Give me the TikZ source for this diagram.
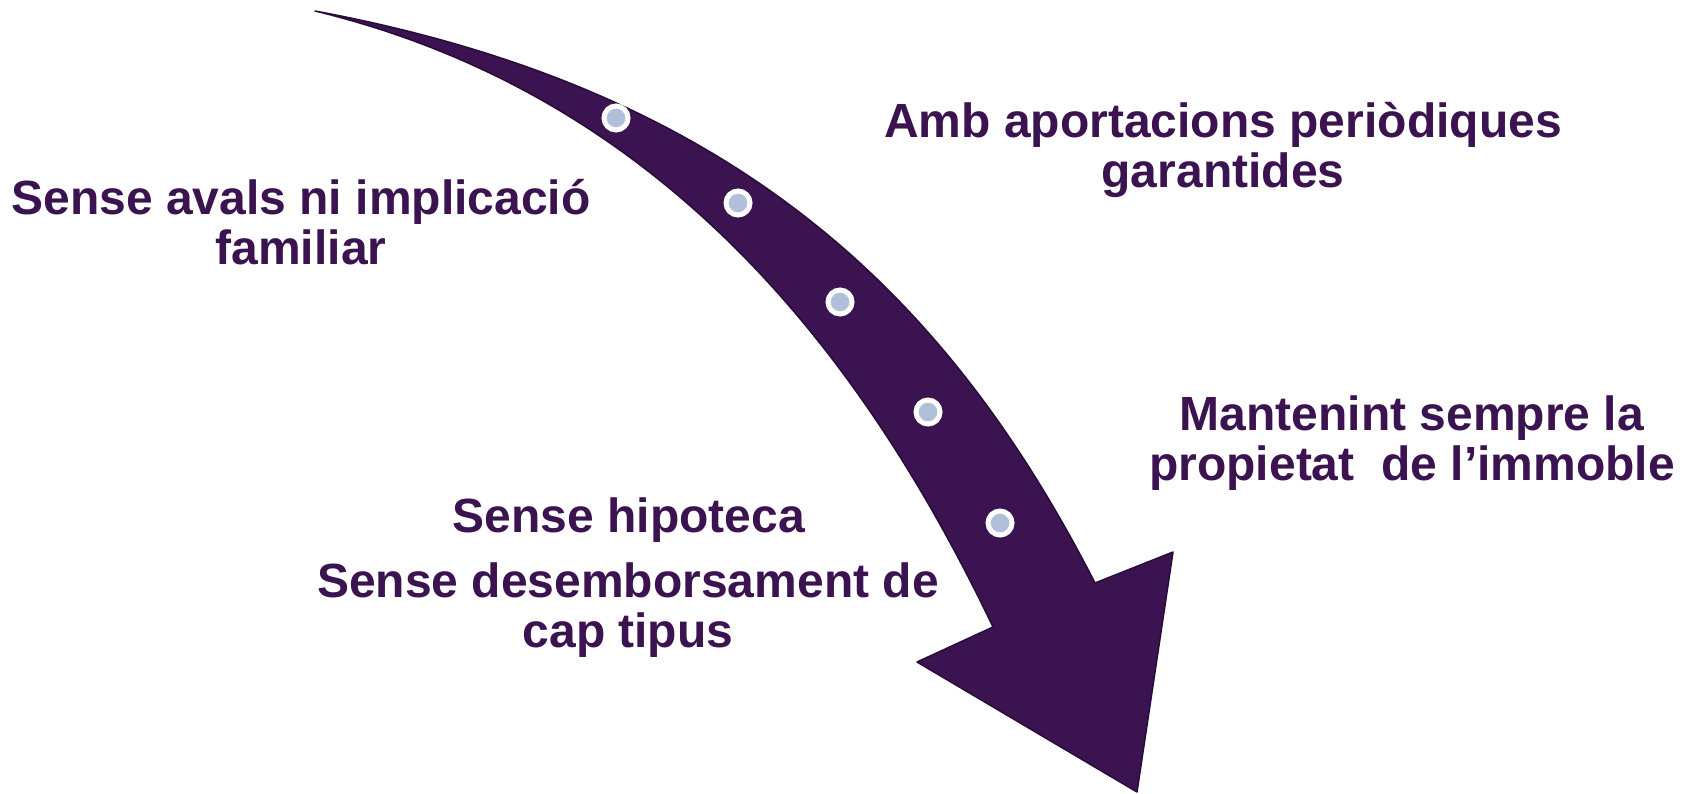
\documentclass[tikz,border=0pt]{standalone}
\usepackage{fontspec}
\setmainfont{Liberation Sans}
\definecolor{plum}{RGB}{59,19,80}
\definecolor{plumdark}{RGB}{40,11,56}
\definecolor{dotblue}{RGB}{176,192,218}

\begin{document}
\begin{tikzpicture}[x=1pt,y=-1pt,
  lbl/.style={text=plum,font=\bfseries\fontsize{48}{50}\selectfont,align=center,anchor=base,inner sep=0pt},
  dot/.style={circle,fill=dotblue,draw=white,line width=5pt,minimum size=24pt,inner sep=0pt}]
\useasboundingbox (0,0) rectangle (1685,794);
\coordinate (tail) at (315,11);
\coordinate (rs) at (1095,583);
\coordinate (rc) at (1173,552);
\coordinate (tip) at (1137,792);
\coordinate (lc) at (917,662);
\coordinate (ls) at (993,627);
\fill[plum,draw=plumdark,line width=1.5pt,line join=round]
  (tail) .. controls (740,90) and (950,300) .. (rs) -- (rc) -- (tip) -- (lc) -- (ls)
  .. controls (864,357) and (665,96) .. (tail) -- cycle;
\foreach \n/\p in {1/{(616,118)},2/{(738,203)},3/{(840,302)},4/{(928,412)},5/{(1000,523)}}
  \node[dot] (d\n) at \p {};
\node[lbl] (t1) at (1223,188) {Amb aportacions periòdiques\\garantides};
\node[lbl] (t2) at (301,265) {Sense avals ni implicació\\familiar};
\node[lbl] (t3) at (1412,480) {Mantenint sempre la\\propietat\ \ de l’immoble};
\node[lbl] (t4) at (629,532) {Sense hipoteca};
\node[lbl] (t5) at (628,647) {Sense desemborsament de\\cap tipus};
\end{tikzpicture}
\end{document}
